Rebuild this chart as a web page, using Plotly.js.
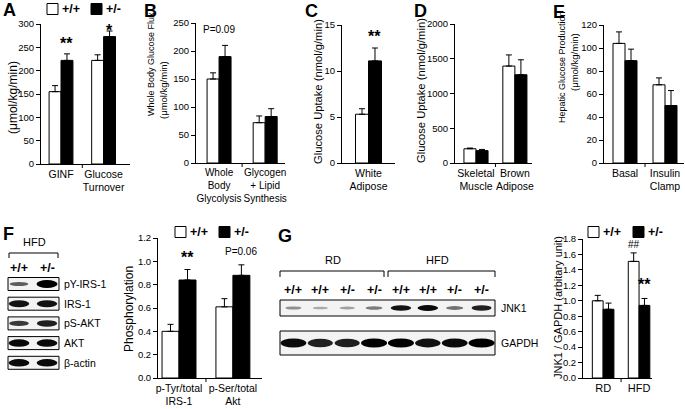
<!DOCTYPE html>
<html><head><meta charset="utf-8">
<script src="https://cdn.plot.ly/plotly-3.0.1.min.js"></script>
<style>html,body{margin:0;padding:0;background:#fff}#chart{width:685px;height:409px}</style>
</head><body><div id="chart"></div>
<script>
// ---------- data ----------
const genotypes = ["+/+", "+/-"];

const catsA = ["GINF", "Glucose<br>Turnover"];
const wtA = [155, 222];   const errWtA = [13, 12];
const hetA = [222, 273];  const errHetA = [14, 12];

const catsB = ["Whole<br>Body<br>Glycolysis", "Glycogen<br>+ Lipid<br>Synthesis"];
const wtB = [150, 72];    const errWtB = [11, 12];
const hetB = [190, 83];   const errHetB = [20, 14];

const catsC = ["White<br>Adipose"];
const wtC = [5.3];        const errWtC = [0.6];
const hetC = [11.1];      const errHetC = [1.4];

const catsD = ["Skeletal<br>Muscle", "Brown<br>Adipose"];
const wtD = [205, 1395];  const errWtD = [10, 160];
const hetD = [178, 1270]; const errHetD = [17, 215];

const catsE = ["Basal", "Insulin<br>Clamp"];
const wtE = [104, 68];    const errWtE = [10, 6];
const hetE = [89, 50];    const errHetE = [10, 13];

const catsF = ["p-Tyr/total<br>IRS-1", "p-Ser/total<br>Akt"];
const wtF = [0.40, 0.61]; const errWtF = [0.06, 0.07];
const hetF = [0.84, 0.88];const errHetF = [0.09, 0.09];

const catsG = ["RD", "HFD"];
const wtG = [1.00, 1.51]; const errWtG = [0.07, 0.11];
const hetG = [0.89, 0.94];const errHetG = [0.08, 0.09];

// western blots (relative band intensity, 0..1)
const blotFLanes = ["+/+", "+/-"];
const blotFRows = ["pY-IRS-1", "IRS-1", "pS-AKT", "AKT", "β-actin"];
const blotFWt  = [0.55, 0.90, 0.72, 0.95, 0.95];
const blotFHet = [1.00, 0.90, 0.85, 0.95, 0.95];

const blotGLanes = ["+/+", "+/+", "+/-", "+/-", "+/+", "+/+", "+/-", "+/-"];
const blotGRows = ["JNK1", "GAPDH"];
const blotGJnk1  = [0.30, 0.18, 0.22, 0.40, 0.92, 0.95, 0.45, 0.85];
const blotGGapdh = [0.95, 0.85, 0.85, 1.00, 1.00, 0.92, 0.95, 1.00];

// ---------- layout helpers ----------
const W = 685, H = 409;
const FONT = "'Liberation Sans', Arial, Helvetica, sans-serif";
const px = x => x / W;
const py = y => 1 - y / H;

const panels = [
  {cats: catsA, wt: wtA, ewt: errWtA, het: hetA, eht: errHetA, box: [41, 130, 24, 164], xr: [-0.47, 1.62], yr: [0, 300], dtick: 50, bw: 0.28, fmt: "", lf: 10.5},
  {cats: catsB, wt: wtB, ewt: errWtB, het: hetB, eht: errHetB, box: [196, 285, 23, 163], xr: [-0.5, 1.43], yr: [0, 250], dtick: 50, bw: 0.26, fmt: "", lf: 10},
  {cats: catsC, wt: wtC, ewt: errWtC, het: hetC, eht: errHetC, box: [342, 395, 25, 163], xr: [-0.5, 0.5], yr: [0, 15], dtick: 5, bw: 0.245, fmt: "", lf: 10.5},
  {cats: catsD, wt: wtD, ewt: errWtD, het: hetD, eht: errHetD, box: [455, 532, 24, 163], xr: [-0.54, 1.44], yr: [0, 2000], dtick: 500, bw: 0.31, fmt: "", lf: 10.5},
  {cats: catsE, wt: wtE, ewt: errWtE, het: hetE, eht: errHetE, box: [604, 684, 25, 163], xr: [-0.525, 1.475], yr: [0, 120], dtick: 20, bw: 0.3, fmt: "", lf: 10.5},
  {cats: catsF, wt: wtF, ewt: errWtF, het: hetF, eht: errHetF, box: [158, 262, 238, 378], xr: [-0.39, 1.54], yr: [0, 1.2], dtick: 0.2, bw: 0.315, fmt: ".1f", lf: 10.5},
  {cats: catsG, wt: wtG, ewt: errWtG, het: hetG, eht: errHetG, box: [583, 652, 239, 378], xr: [-0.56, 1.36], yr: [0, 1.8], dtick: 0.2, bw: 0.3, fmt: ".1f", lf: 11}
];

const data = [];
const layout = {
  width: W, height: H,
  margin: {l: 0, r: 0, t: 0, b: 0},
  paper_bgcolor: "#fff", plot_bgcolor: "rgba(0,0,0,0)",
  font: {family: FONT, color: "#000", size: 10},
  barmode: "overlay",
  showlegend: false,
  shapes: [], annotations: []
};

panels.forEach((p, i) => {
  const n = i + 1;
  const xa = "x" + n, ya = "y" + n;
  const idx = p.cats.map((_, k) => k);
  const zeros = p.cats.map(() => 0);
  const mk = (vals, errs, color, offset, name) => ({
    type: "bar", name: name, x: idx, y: vals, width: p.bw, offset: offset,
    xaxis: xa, yaxis: ya,
    marker: {color: color, line: {color: "#000", width: 1}},
    error_y: {type: "data", array: errs, arrayminus: zeros, symmetric: false,
              color: "#000", thickness: 1, width: 3},
    hoverinfo: "y"
  });
  data.push(mk(p.wt, p.ewt, "#ffffff", -p.bw, genotypes[0]));
  data.push(mk(p.het, p.eht, "#000000", 0, genotypes[1]));

  const [l, r, t, b] = p.box;
  layout["xaxis" + n] = {
    domain: [px(l), px(r)], anchor: ya, range: p.xr,
    tickvals: idx, ticktext: p.cats, ticks: "", tickangle: 0, showgrid: false, zeroline: false,
    showline: true, linecolor: "#000", linewidth: 1,
    tickfont: {size: p.lf, family: FONT}, fixedrange: true
  };
  layout["yaxis" + n] = {
    domain: [py(b), py(t)], anchor: xa, range: p.yr, dtick: p.dtick, tick0: 0,
    tickformat: p.fmt, ticks: "outside", ticklen: 4, tickwidth: 1, tickcolor: "#000",
    showline: true, linecolor: "#000", linewidth: 1, showgrid: false, zeroline: false,
    tickfont: {size: 9.5, family: FONT}, fixedrange: true
  };
  // tick marks at category boundaries
  for (let k = 0; k < p.cats.length - 1; k++) {
    layout.shapes.push({type: "line", xref: xa, yref: ya + " domain",
      x0: k + 0.5, x1: k + 0.5, y0: 0, y1: -4 / (b - t),
      line: {color: "#000", width: 1}});
  }
});

// ---------- text annotations ----------
function ann(text, x, y, opts) {
  layout.annotations.push(Object.assign({
    text: text, xref: "paper", yref: "paper", x: px(x), y: py(y),
    showarrow: false, xanchor: "center", yanchor: "middle",
    font: {family: FONT, size: 10, color: "#000"}
  }, opts || {}));
}
function dataAnn(text, n, x, y, size, bold) {
  layout.annotations.push({
    text: bold ? "<b>" + text + "</b>" : text, xref: "x" + n, yref: "y" + n, x: x, y: y,
    showarrow: false, xanchor: "center", yanchor: "bottom",
    font: {family: FONT, size: size, color: "#000"}
  });
}
const F = (s) => ({family: FONT, size: s, color: "#000"});

// panel letters
[["A", 1, 10], ["B", 142, 11], ["C", 303, 11], ["D", 412, 11], ["E", 551, 12], ["F", 1, 234], ["G", 276, 236]]
  .forEach(([t, x, y]) => ann("<b>" + t + "</b>", x, y, {xanchor: "left", font: F(18)}));

// y-axis titles
ann("(μmol/kg/min)", 13, 98, {textangle: -90, font: F(12)});
ann("Whole Body Glucose Flux", 151, 64, {textangle: -90, font: F(9)});
ann("(μmol/kg/min)", 163, 90, {textangle: -90, font: F(9.5)});
ann("Glucose Uptake (nmol/g/min)", 318, 92, {textangle: -90, font: F(11.2)});
ann("Glucose Uptake (nmol/g/min)", 421, 91, {textangle: -90, font: F(11.2)});
ann("Hepatic Glucose Production", 562, 67, {textangle: -90, font: F(9)});
ann("(μmol/kg/min)", 574, 62, {textangle: -90, font: F(9.5)});
ann("Phosphorylation", 129, 309, {textangle: -90, font: F(12)});
ann("JNK1 / GAPDH (arbitary unit)", 558, 308, {textangle: -90, font: F(11)});

// significance marks
dataAnn("**", 1, 0 + panels[0].bw / 2, 236, 16, true);
dataAnn("*", 1, 1 + panels[0].bw / 2, 264, 16, true);
dataAnn("P=0.09", 2, 0, 225, 10, false);
dataAnn("**", 3, 0 + panels[2].bw / 2, 12.6, 16, true);
dataAnn("**", 6, 0 + panels[5].bw / 2, 0.94, 16, true);
dataAnn("P=0.06", 6, 1 + panels[5].bw / 2, 1.02, 10, false);
dataAnn("##", 7, 1 - panels[6].bw / 2, 1.63, 10, false);
dataAnn("**", 7, 1 + panels[6].bw / 2, 1.07, 16, true);

// legends
function legend(x, y, gap) {
  const s = 11;
  layout.shapes.push({type: "rect", xref: "paper", yref: "paper",
    x0: px(x), x1: px(x + s), y0: py(y + s / 2), y1: py(y - s / 2),
    fillcolor: "#fff", line: {color: "#000", width: 1}});
  ann("<b>" + genotypes[0] + "</b>", x + s + 2, y, {xanchor: "left", font: F(12.5)});
  layout.shapes.push({type: "rect", xref: "paper", yref: "paper",
    x0: px(x + gap), x1: px(x + gap + s), y0: py(y + s / 2), y1: py(y - s / 2),
    fillcolor: "#000", line: {color: "#000", width: 1}});
  ann("<b>" + genotypes[1] + "</b>", x + gap + s + 2, y, {xanchor: "left", font: F(12.5)});
}
legend(47, 9, 44);
legend(175, 232, 44);
legend(588, 232, 45);

// ---------- western blots ----------
function band(cx, cy, w, h, intensity) {
  layout.shapes.push({type: "circle", xref: "paper", yref: "paper",
    x0: px(cx - w / 2), x1: px(cx + w / 2), y0: py(cy + h / 2), y1: py(cy - h / 2),
    fillcolor: "rgba(0,0,0," + (0.15 + 0.85 * intensity).toFixed(2) + ")", line: {width: 0}});
}
function boxRect(x0, x1, y0, y1) {
  layout.shapes.push({type: "rect", xref: "paper", yref: "paper",
    x0: px(x0), x1: px(x1), y0: py(y1), y1: py(y0),
    fillcolor: "#f3f3f3", line: {color: "#000", width: 1}, layer: "below"});
}
function bracket(x0, x1, y, d) {
  layout.shapes.push({type: "path", xref: "paper", yref: "paper",
    path: `M${px(x0)},${py(y + d)} L${px(x0)},${py(y)} L${px(x1)},${py(y)} L${px(x1)},${py(y + d)}`,
    line: {color: "#000", width: 1}});
}

// Panel F blot
ann("HFD", 34, 242, {font: F(11)});
bracket(9, 58, 253, 5);
const fLaneX = [19, 47];
blotFLanes.forEach((t, k) => ann("<b>" + t + "</b>", fLaneX[k], 268, {font: F(12.5)}));
blotFRows.forEach((name, r) => {
  const cy = 284 + r * 19.7;
  boxRect(8, 59, cy - 6.5, cy + 6.5);
  [blotFWt[r], blotFHet[r]].forEach((v, k) => band(fLaneX[k], cy, 16 + 5 * v, 2.5 + 5.5 * v * v, v));
  ann(name, 62, cy, {xanchor: "left", font: F(10.5)});
});

// Panel G blot
ann("RD", 333, 260, {font: F(11)});
ann("HFD", 437, 260, {font: F(11)});
bracket(280, 384, 271, 6);
bracket(388, 495, 271, 6);
const gLaneX = blotGLanes.map((_, k) => 280 + (k + 0.5) * (215 / blotGLanes.length));
blotGLanes.forEach((t, k) => ann("<b>" + t + "</b>", gLaneX[k], 290, {font: F(12.5)}));
boxRect(280, 495, 300, 316);
boxRect(280, 495, 331, 355);
blotGJnk1.forEach((v, k) => band(gLaneX[k], 308, 14 + 7 * v, 2 + 4 * v, v));
blotGGapdh.forEach((v, k) => band(gLaneX[k], 343, 20 + 6 * v, 6 + 3 * v, v));
ann(blotGRows[0], 499, 308, {xanchor: "left", font: F(10.5)});
ann(blotGRows[1], 499, 343, {xanchor: "left", font: F(10.5)});

Plotly.newPlot("chart", data, layout, {staticPlot: true, displayModeBar: false});
</script>
</body></html>
